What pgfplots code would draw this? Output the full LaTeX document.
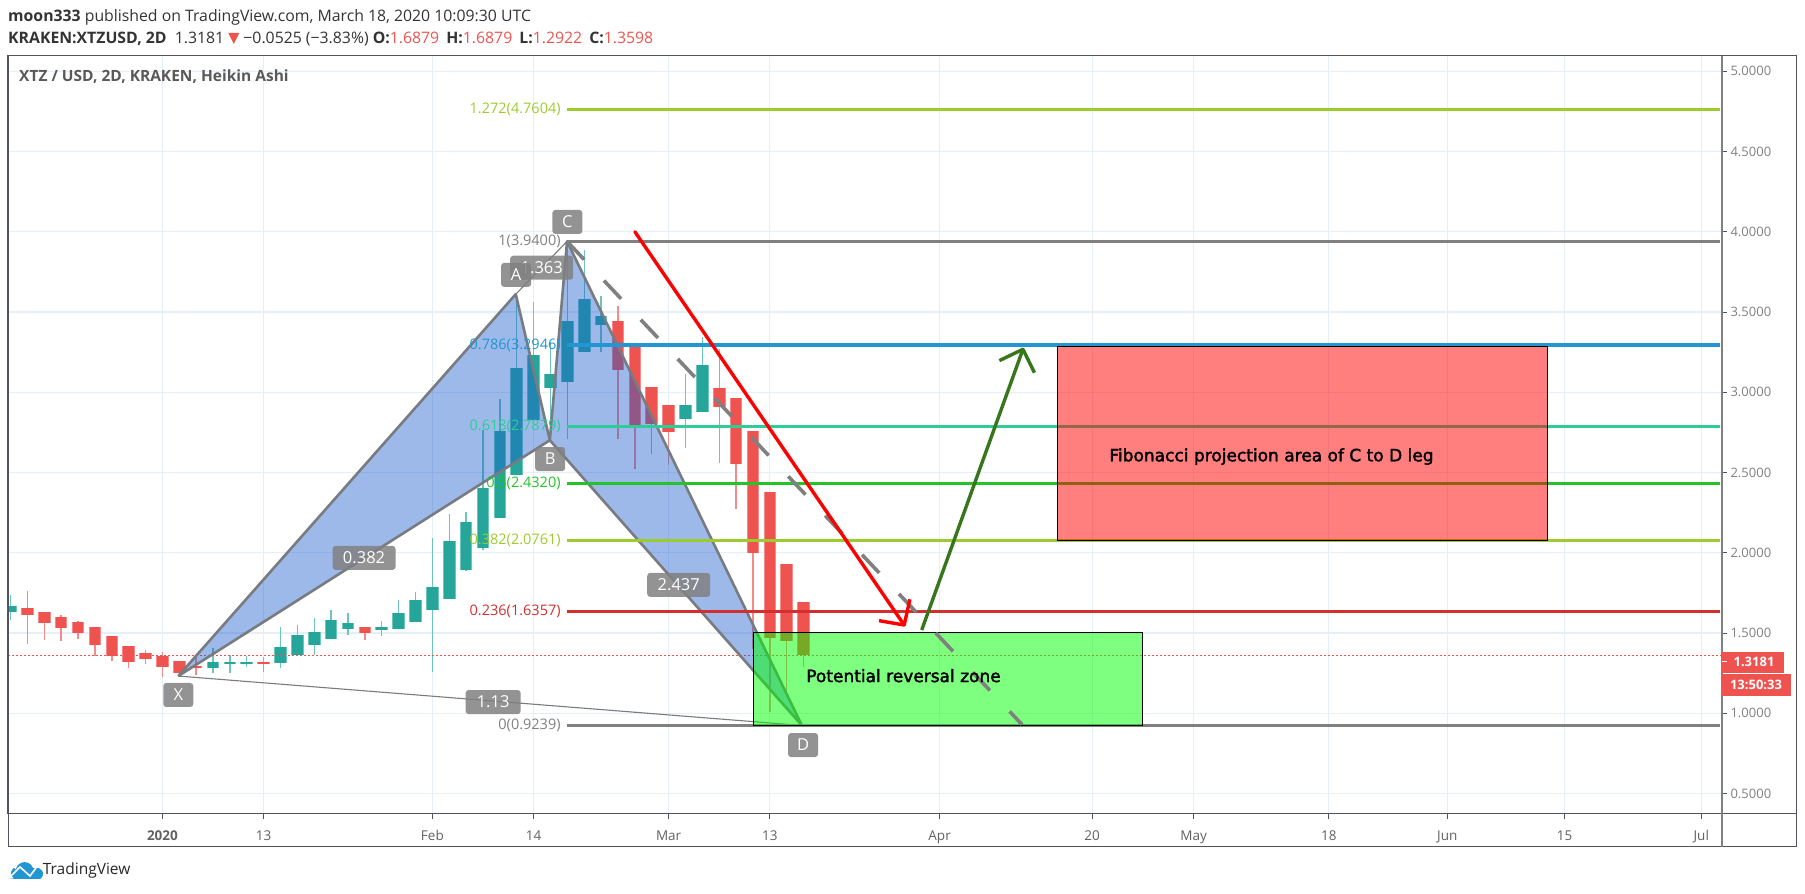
\documentclass[border=0pt]{standalone}
\usepackage{fontspec}
\usepackage{pgfplots}
\usepackage{pgfplotstable}
\pgfplotsset{compat=1.18}
\setmainfont{Open Sans}
\newfontfamily\verd[FakeBold=2]{DejaVu Sans}
\newcommand\fs[1]{\fontsize{#1}{#1}\selectfont}
\definecolor{gup}{HTML}{26A69A}
\definecolor{gupl}{HTML}{6CC6BC}
\definecolor{rdn}{HTML}{EF5350}
\definecolor{rdnl}{HTML}{F58A88}
\definecolor{gridc}{HTML}{E6EEF6}
\definecolor{framec}{HTML}{50535E}
\definecolor{pline}{HTML}{787B80}
\definecolor{pfill}{HTML}{1C5DCF}
\definecolor{fgray}{HTML}{808080}
\definecolor{fblue}{HTML}{2196D3}
\definecolor{fteal}{HTML}{2ECC96}
\definecolor{fgreen}{HTML}{22C428}
\definecolor{flime}{HTML}{9CCC2C}
\definecolor{fred}{HTML}{D32F2F}
\definecolor{darrow}{HTML}{38761D}
% Heikin Ashi candles
\pgfplotstableread{
k low bot top high
-9 1.579 1.633 1.670 1.739
3 1.250 1.281 1.318 1.406
4 1.250 1.304 1.320 1.364
5 1.291 1.304 1.320 1.360
7 1.281 1.312 1.412 1.537
8 1.364 1.364 1.489 1.552
9 1.364 1.423 1.506 1.591
10 1.462 1.462 1.583 1.645
11 1.489 1.525 1.562 1.623
13 1.483 1.516 1.537 1.577
14 1.525 1.525 1.623 1.708
15 1.570 1.570 1.708 1.756
16 1.258 1.643 1.785 2.093
17 1.712 1.712 2.075 2.239
18 1.885 1.891 2.193 2.256
19 2.016 2.031 2.404 2.766
20 2.218 2.218 2.756 2.958
21 2.485 2.485 3.154 3.614
22 2.829 2.829 3.231 3.562
23 2.708 3.025 3.114 3.312
24 2.708 3.062 3.443 3.948
25 3.250 3.250 3.583 3.889
26 3.250 3.416 3.475 3.600
31 2.650 2.831 2.918 3.114
32 2.879 2.879 3.168 3.343
}\upcandles
\pgfplotstableread{
k low bot top high
-8 1.431 1.610 1.656 1.764
-7 1.454 1.562 1.631 1.631
-6 1.448 1.531 1.600 1.614
-5 1.462 1.500 1.568 1.577
-4 1.354 1.423 1.537 1.537
-3 1.323 1.354 1.481 1.481
-2 1.281 1.320 1.418 1.418
-1 1.304 1.337 1.375 1.395
0 1.229 1.289 1.360 1.381
1 1.229 1.252 1.325 1.327
2 1.239 1.285 1.296 1.354
6 1.258 1.310 1.320 1.350
12 1.454 1.500 1.537 1.537
27 2.708 3.141 3.443 3.537
28 2.525 2.781 3.300 3.300
29 2.614 2.802 3.035 3.035
30 2.548 2.752 2.918 2.918
33 2.562 2.906 3.029 3.270
34 2.275 2.556 2.964 2.964
35 1.400 1.999 2.760 2.760
36 1.010 1.468 2.381 2.381
37 1.104 1.448 1.927 1.927
38 1.291 1.364 1.693 1.693
}\downcandles
\newcommand\wicks[2]{\addplot[forget plot, draw=none, no markers,
   error bars/.cd, y dir=both, y explicit, error mark=none,
   error bar style={draw=#2, line width=1.4pt}]
   table[x=k, y=bot, y error plus expr=\thisrow{high}-\thisrow{bot}, y error minus expr=\thisrow{bot}-\thisrow{low}] {#1};}
\newcommand\bodies[3]{\addplot[forget plot, draw=none, no markers,
   error bars/.cd, y dir=plus, y explicit, error mark=none,
   error bar style={draw=#2, line width=#3}]
   table[x=k, y=bot, y error plus expr=\thisrow{top}-\thisrow{bot}, y error minus expr=0] {#1};}
\tikzset{tag/.style={fill=fgray, fill opacity=.85, text opacity=1, text=white, rounded corners=3pt,
  inner sep=0pt, minimum height=24pt, font=\fs{16.5}},
  fib/.style={anchor=east, font=\fs{14.5}, inner sep=0pt}}
\begin{document}
\begin{tikzpicture}[x=1pt,y=1pt]
\path[use as bounding box] (0,0) rectangle (1805,894);
\begin{axis}[
  at={(8pt,80pt)}, anchor=south west, scale only axis,
  width=1714pt, height=758pt,
  xmin=-9.152, xmax=92.43, ymin=0.3726, ymax=5.095,
  xtick={0,6,16,22,30,36,46.06,55.1,61.12,69.13,76.15,83.1,91.2},
  xticklabels={\textbf{2020},13,Feb,14,Mar,13,Apr,20,May,18,Jun,15,Jul},
  ytick={0.5,1,1.5,2,2.5,3,3.5,4,4.5,5},
  yticklabel pos=right, ytick pos=right, xtick pos=bottom,
  tick align=outside, major tick length=5pt,
  tick style={draw=framec, line width=1pt},
  grid=major, grid style={draw=gridc, line width=1.2pt},
  axis line style={draw=framec, line width=1pt},
  xticklabel style={font=\fs{13.5}, text=black!62, yshift=-8pt},
  yticklabel style={font=\fs{13}, text=black!50,
    /pgf/number format/.cd, fixed, fixed zerofill, precision=4, assume math mode=true},
]
\wicks{\upcandles}{gupl}
\wicks{\downcandles}{rdnl}
\bodies{\upcandles}{gupl}{12.6pt}
\bodies{\downcandles}{rdnl}{12.6pt}
\bodies{\upcandles}{gup}{10.6pt}
\bodies{\downcandles}{rdn}{10.6pt}
% last price line
\addplot[forget plot, rdn, line width=.8pt, dash pattern=on 2pt off 2pt] coordinates {(-9.152,1.36)(92.43,1.36)};
% XABCD pattern
\addplot[forget plot, draw=none, fill=pfill, fill opacity=.43] coordinates {(0.94,1.232)(20.94,3.611)(22.96,2.701)} -- cycle;
\addplot[forget plot, draw=none, fill=pfill, fill opacity=.43] coordinates {(22.96,2.701)(23.98,3.94)(37.9,0.924)} -- cycle;
\addplot[forget plot, pline, line width=2.6pt, line join=round] coordinates {(0.94,1.232)(20.94,3.611)(22.96,2.701)(0.94,1.232)};
\addplot[forget plot, pline, line width=2.6pt, line join=round] coordinates {(22.96,2.701)(23.98,3.94)(37.9,0.924)(22.96,2.701)};
\addplot[forget plot, pline, line width=1.1pt] coordinates {(0.94,1.232)(37.9,0.924)};
\addplot[forget plot, pline, line width=1.1pt] coordinates {(20.94,3.611)(23.98,3.94)};
% Fibonacci levels
\addplot[forget plot, flime, line width=3.4pt] coordinates {(24,4.7604)(92.3,4.7604)};
\addplot[forget plot, fgray, line width=3.4pt] coordinates {(24,3.94)(92.3,3.94)};
\addplot[forget plot, fblue, line width=3.4pt] coordinates {(24,3.2946)(92.3,3.2946)};
\addplot[forget plot, fteal, line width=3.4pt] coordinates {(24,2.7879)(92.3,2.7879)};
\addplot[forget plot, fgreen, line width=3.4pt] coordinates {(24,2.432)(92.3,2.432)};
\addplot[forget plot, flime, line width=3.4pt] coordinates {(24,2.0761)(92.3,2.0761)};
\addplot[forget plot, fred, line width=3.4pt] coordinates {(24,1.6357)(92.3,1.6357)};
\addplot[forget plot, fgray, line width=3.4pt] coordinates {(24,0.9239)(92.3,0.9239)};
\node[fib, text=flime] at (axis cs:23.61,4.7604) {1.272(4.7604)};
\node[fib, text=fgray] at (axis cs:23.61,3.94) {1(3.9400)};
\node[fib, text=fblue] at (axis cs:23.61,3.2946) {0.786(3.2946)};
\node[fib, text=fteal] at (axis cs:23.61,2.7879) {0.618(2.7879)};
\node[fib, text=fgreen] at (axis cs:23.61,2.432) {0.5(2.4320)};
\node[fib, text=flime] at (axis cs:23.61,2.0761) {0.382(2.0761)};
\node[fib, text=fred] at (axis cs:23.61,1.6357) {0.236(1.6357)};
\node[fib, text=fgray] at (axis cs:23.61,0.9239) {0(0.9239)};
% boxes
\addplot[forget plot, draw=black, line width=1pt, fill=red, fill opacity=.5] coordinates {(53.05,3.285)(82.09,3.285)(82.09,2.0735)(53.05,2.0735)} -- cycle;
\addplot[forget plot, draw=black, line width=1pt, fill={rgb,255:red,0;green,255;blue,0}, fill opacity=.5] coordinates {(35.03,1.502)(58.08,1.502)(58.08,0.924)(35.03,0.924)} -- cycle;
% dashed projection
\addplot[forget plot, fgray, line width=3.6pt, dash pattern=on 25pt off 28.8pt] coordinates {(23.98,3.94)(50.94,0.93)};
% arrows
\addplot[forget plot, red, line width=3.4pt, line join=round, line cap=round] coordinates {(28,4.0)(43.96,1.55)};
\addplot[forget plot, red, line width=3.4pt, line join=round] coordinates {(42.47,1.577)(43.96,1.55)(44.3,1.71)};
\addplot[forget plot, darrow, line width=3.4pt] coordinates {(45,1.519)(51,3.268)};
\addplot[forget plot, darrow, line width=3.4pt, line join=round] coordinates {(49.6,3.197)(51,3.268)(51.68,3.122)};
% texts
\node[tag, minimum width=30pt] at (axis cs:0.94,1.114) {X};
\node[tag, minimum width=63pt] at (axis cs:11.95,1.968) {0.382};
\node[tag, minimum width=55pt] at (axis cs:19.6,1.07) {1.13};
\node[tag, minimum width=63pt] at (axis cs:22.48,3.776) {1.363};
\node[tag, minimum width=30pt] at (axis cs:20.96,3.731) {A};
\node[tag, minimum width=30pt] at (axis cs:24,4.061) {C};
\node[tag, minimum width=30pt] at (axis cs:22.98,2.584) {B};
\node[tag, minimum width=30pt] at (axis cs:37.97,0.802) {D};
\node[tag, minimum width=63pt] at (axis cs:30.6,1.80) {2.437};
\node[font=\verd\fs{17}, text=black] at (axis cs:65.73,2.599) {Fibonacci projection area of C to D leg};
\node[font=\verd\fs{17}, text=black] at (axis cs:43.92,1.234) {Potential reversal zone};
\end{axis}
% chart frame
\draw[framec, line width=1pt] (8,838) rectangle (1796,47);
\draw[framec, line width=1pt] (8,80) -- (1796,80);
\draw[black!50, line width=2pt] (1722,838) -- (1722,47);
% last price tags
\fill[rdn] (1722,894-651.7) rectangle (1784,894-672.7);
\fill[rdn] (1722,894-674) rectangle (1791,894-695.7);
\draw[white, line width=1pt] (1722,894-662) -- (1727,894-662);
\node[font=\fs{13}\bfseries, text=white, inner sep=0pt] at (1754,894-662) {1.3181};
\node[font=\fs{13}\bfseries, text=white, inner sep=0pt] at (1756,894-685) {13:50:33};
% header
\node[anchor=base west, inner sep=0pt, font=\fs{15.8}, text=black!80] at (8,894-22) {\textbf{moon333} published on TradingView.com, March 18, 2020 10:09:30 UTC};
\node[anchor=base west, inner sep=0pt, font=\fs{15.8}, text=black!80] at (8,894-44) {\textbf{KRAKEN:XTZUSD, 2D} \ 1.3181 \textcolor{rdn}{\tikz[x=1pt,y=1pt]\fill (0,11)--(11,11)--(5.5,0)--cycle;} −0.0525 (−3.83\%) \textbf{O:}\textcolor{rdn}{1.6879}\kern3pt\ \textbf{H:}\textcolor{rdn}{1.6879}\kern3pt\ \textbf{L:}\textcolor{rdn}{1.2922}\kern3pt\ \textbf{C:}\textcolor{rdn}{1.3598}};
\node[anchor=base west, inner sep=0pt, font=\fs{15.5}\bfseries, text=black!65] at (19,894-82) {XTZ / USD, 2D, KRAKEN, Heikin Ashi};
% logo
\fill[fblue] (8,894-879) -- (40,894-879) arc[start angle=-60,end angle=70,radius=6] -- (33,894-868) arc[start angle=20,end angle=170,radius=9] -- (14,894-868) arc[start angle=120,end angle=240,radius=6] -- cycle;
\draw[white, line width=1.6pt] (10,894-877) -- (20,894-867) -- (30,894-876) -- (36,894-868);
\node[anchor=west, inner sep=0pt, font=\fs{15.5}, text=black!85] at (42.7,894-870) {TradingView};
\end{tikzpicture}
\end{document}
